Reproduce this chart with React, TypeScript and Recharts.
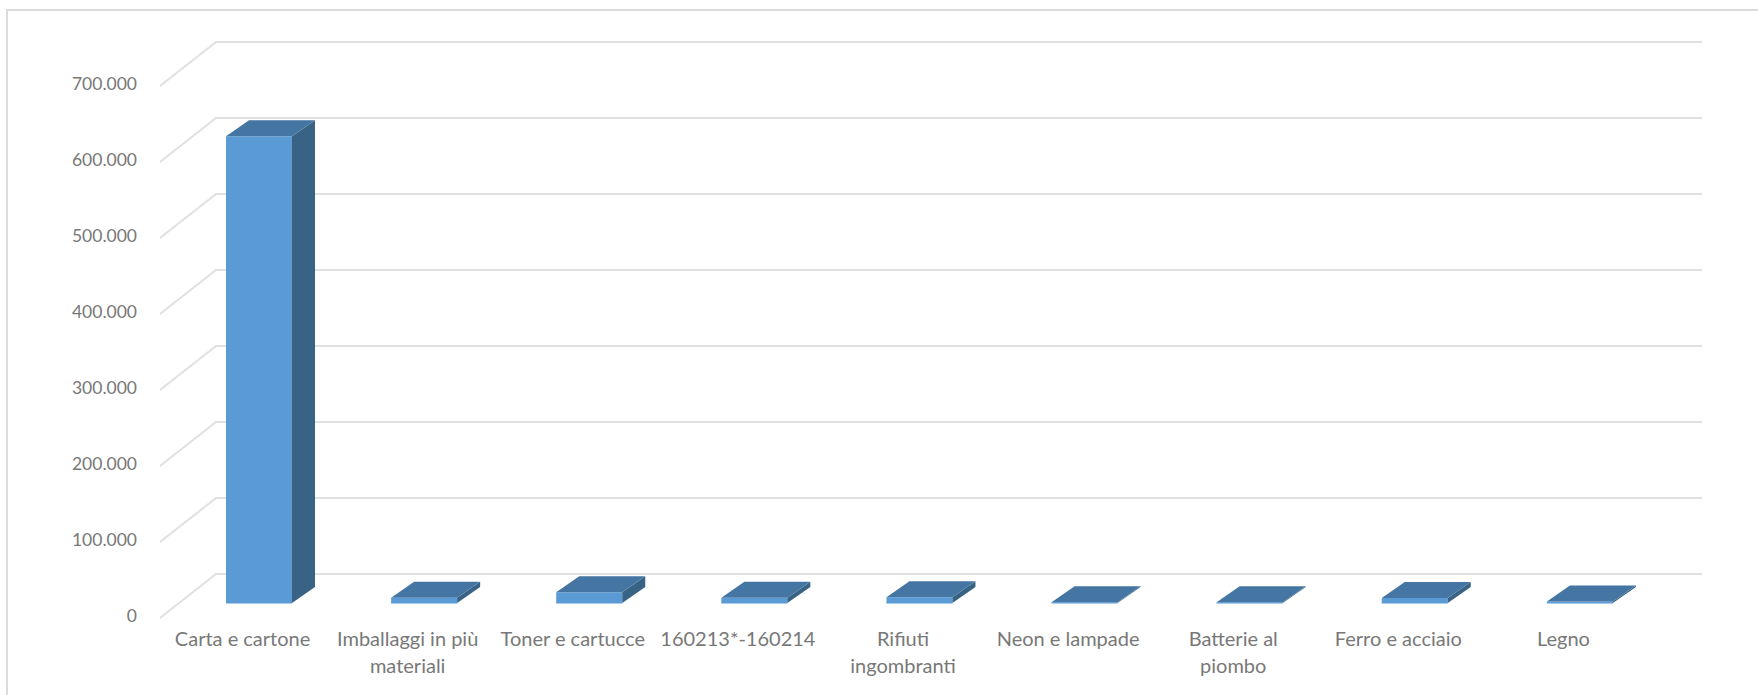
import { Bar, BarChart, CartesianGrid, XAxis, YAxis } from "recharts";

const categories = [
  "Carta e cartone",
  "Imballaggi in più\nmateriali",
  "Toner e cartucce",
  "160213*-160214",
  "Rifiuti\ningombranti",
  "Neon e lampade",
  "Batterie al\npiombo",
  "Ferro e acciaio",
  "Legno",
];
const quantities = [614000, 7000, 14000, 7000, 7500, 1000, 1000, 6500, 2000];
const yTicks = [0, 100000, 200000, 300000, 400000, 500000, 600000, 700000];

const rows = categories.map((name, i) => ({ name, value: quantities[i] }));

const FONT = "Lato, 'Open Sans', sans-serif";
const TEXT = "#787878";
const GRID = "#e0e0e0";

// fake 3D floor: bars stand on a plane between the front and back edge of the chart floor
const DEPTH_X = 23;
const DEPTH_Y = 16;
const BACK = { dx: 40, dy: -29 };
const FRONT = { dx: -16, dy: 15 };

const fmt = (v: number) => v.toLocaleString("de-DE");

function Box3D(props: any) {
  const { x, y, width, height } = props;
  const r = x + width;
  const b = y + height;
  return (
    <g>
      <path d={`M${x} ${y}h${width}v${height}h${-width}z`} fill="#5b9bd5" />
      <path d={`M${r} ${y}l${DEPTH_X} ${-DEPTH_Y}v${height}l${-DEPTH_X} ${DEPTH_Y}z`} fill="#386384" />
      <path d={`M${x} ${y}l${DEPTH_X} ${-DEPTH_Y}h${width}l${-DEPTH_X} ${DEPTH_Y}z`} fill="#4575a2" />
      <line x1={x} x2={r} y1={b} y2={b} stroke="#5b9bd5" strokeWidth={1} />
    </g>
  );
}

function GridLine(props: any) {
  const { x1, x2, y1 } = props;
  return (
    <path
      key={props.key ?? y1}
      d={`M${x1 + FRONT.dx} ${y1 + FRONT.dy}L${x1 + BACK.dx} ${y1 + BACK.dy}L${x2 + BACK.dx} ${y1 + BACK.dy}`}
      fill="none"
      stroke={GRID}
      strokeWidth={2}
    />
  );
}

function XTick({ x, y, payload }: any) {
  const lines = String(payload.value).split("\n");
  return (
    <text x={x - 16} y={y} textAnchor="middle" fontFamily={FONT} fontSize={20} fill={TEXT}>
      {lines.map((l, i) => (
        <tspan key={l} x={x - 16} y={y + 35 + i * 27}>
          {l}
        </tspan>
      ))}
    </text>
  );
}

function YTick({ y, payload }: any) {
  return (
    <text x={137} y={y + 19} textAnchor="end" fontFamily={FONT} fontSize={17.5} fill={TEXT}>
      {fmt(payload.value)}
    </text>
  );
}

export default function App() {
  return (
    <div style={{ position: "absolute", left: 0, top: 0, width: 1758, height: 695, background: "#fff", overflow: "hidden" }}>
      <div
        style={{
          position: "absolute",
          left: 6,
          top: 9,
          width: 1752,
          height: 686,
          borderTop: "2px solid #dcdcdc",
          borderLeft: "2px solid #dcdcdc",
          boxSizing: "border-box",
        }}
      />
      <BarChart
        width={1758}
        height={695}
        data={rows}
        barSize={66}
        margin={{ top: 71, right: 96, bottom: 0, left: 0 }}
        style={{ position: "absolute", left: 0, top: 0 }}
      >
        <CartesianGrid vertical={false} horizontal={GridLine} />
        <XAxis dataKey="name" height={92} interval={0} axisLine={false} tickLine={false} tick={XTick} />
        <YAxis width={176} domain={[0, 700000]} ticks={yTicks} axisLine={false} tickLine={false} tick={YTick} />
        <Bar dataKey="value" shape={Box3D} isAnimationActive={false} />
      </BarChart>
    </div>
  );
}
